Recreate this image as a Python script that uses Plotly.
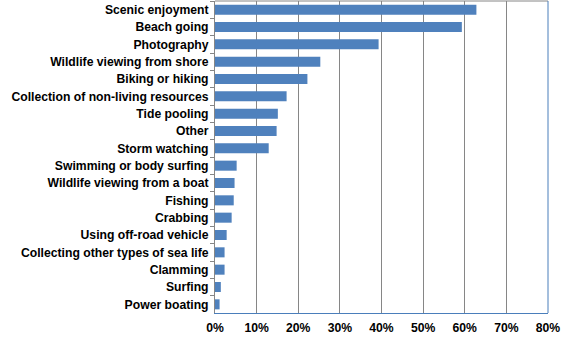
import plotly.graph_objects as go

categories = ["Scenic enjoyment", "Beach going", "Photography", "Wildlife viewing from shore",
              "Biking or hiking", "Collection of non-living resources", "Tide pooling", "Other",
              "Storm watching", "Swimming or body surfing", "Wildlife viewing from a boat",
              "Fishing", "Crabbing", "Using off-road vehicle", "Collecting other types of sea life",
              "Clamming", "Surfing", "Power boating"]
values = [0.628, 0.593, 0.393, 0.253, 0.222, 0.172, 0.151, 0.148, 0.129, 0.052, 0.047,
          0.045, 0.040, 0.028, 0.023, 0.023, 0.014, 0.011]
x_ticks = [0, 0.1, 0.2, 0.3, 0.4, 0.5, 0.6, 0.7, 0.8]
x_tick_labels = ["0%", "10%", "20%", "30%", "40%", "50%", "60%", "70%", "80%"]

fig = go.Figure(go.Bar(
    x=values, y=categories, orientation="h",
    marker=dict(color="#4F81BD", line=dict(width=0)),
))

tf = dict(family="Liberation Sans, Arial, sans-serif", size=12.2, color="black", weight="bold")

fig.update_layout(
    width=570, height=339,
    margin=dict(l=215, r=22, t=1, b=26),
    paper_bgcolor="white", plot_bgcolor="white",
    bargap=0.42,
    showlegend=False,
    font=tf,
    xaxis=dict(range=[0, 0.8], tickvals=x_ticks, ticktext=x_tick_labels,
               showgrid=True, gridcolor="#868686", gridwidth=1,
               zeroline=False, showline=True, linecolor="#4A7EBB", linewidth=1,
               ticks="", tickfont=tf, ticklabelstandoff=3,
               fixedrange=True),
    yaxis=dict(categoryorder="array", categoryarray=categories, autorange="reversed",
               showgrid=False, zeroline=False, showline=True, linecolor="#868686", linewidth=1,
               ticks="outside", ticklen=4, tickcolor="#868686", tickson="boundaries",
               tickfont=tf, ticklabelstandoff=3,
               fixedrange=True),
    shapes=[
        dict(type="line", xref="paper", yref="paper", x0=0, x1=1, y0=1, y1=1,
             line=dict(color="#868686", width=1)),
        dict(type="line", xref="paper", yref="paper", x0=1, x1=1, y0=0, y1=1,
             line=dict(color="#4A7EBB", width=1)),
    ],
)

fig.write_html("out.html")
